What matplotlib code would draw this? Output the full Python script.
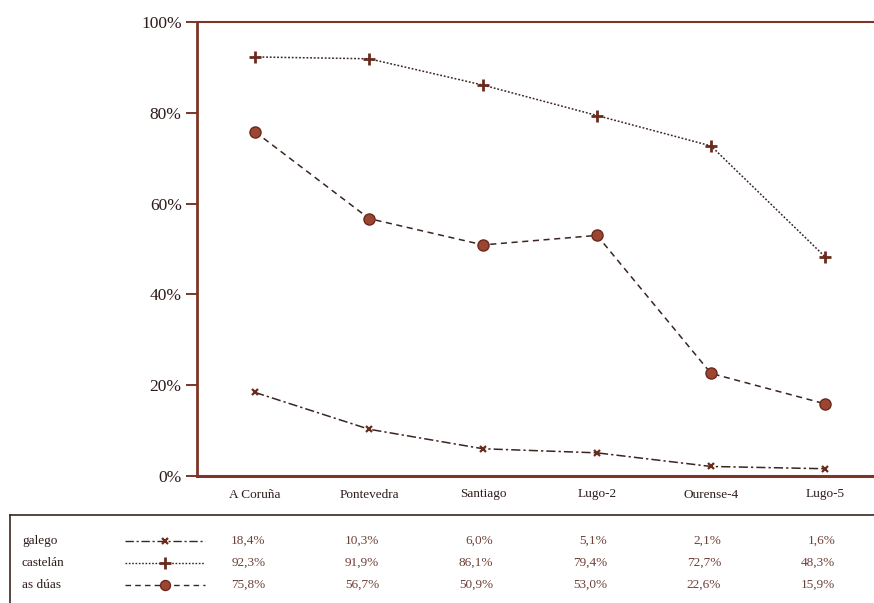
import matplotlib
matplotlib.use("Agg")
import matplotlib.pyplot as plt
import matplotlib.transforms as mtransforms
from matplotlib.lines import Line2D

# ── Datos ────────────────────────────────────────────────────────────────────
lugares = ["A Coruña", "Pontevedra", "Santiago", "Lugo-2", "Ourense-4", "Lugo-5"]
galego = [18.4, 10.3, 6.0, 5.1, 2.1, 1.6]
castelan = [92.3, 91.9, 86.1, 79.4, 72.7, 48.3]
as_duas = [75.8, 56.7, 50.9, 53.0, 22.6, 15.9]
yticks = [0, 20, 40, 60, 80, 100]

# ── Estilo ───────────────────────────────────────────────────────────────────
COLOR_EJE = "#7d3528"
COLOR_LINEA = "#3b2520"
COLOR_MARCA = "#9c4530"
COLOR_TEXTO = "#2e1c1a"
COLOR_VALOR = "#6e4036"
plt.rcParams["font.family"] = ["Liberation Serif", "DejaVu Serif"]

fig = plt.figure(figsize=(8.74, 6.03), dpi=100)
ax = fig.add_axes([197 / 874, 127 / 603, 1 - 197 / 874, 454 / 603])

x = list(range(len(lugares)))
series = [
    ("galego", galego, (0, (6, 2, 1.5, 2)), "x", 5, 1.6),
    ("castelán", castelan, (0, (1.2, 1.2)), "+", 9, 2.0),
    ("as dúas", as_duas, (0, (4, 3)), "o", 8, 1.0),
]
for nombre, vals, ls, mk, ms, mew in series:
    ax.plot(x, vals, color=COLOR_LINEA, lw=1.1, linestyle=ls, zorder=2)
    ax.plot(x, vals, linestyle="none", marker=mk, ms=ms, mew=mew,
            color=COLOR_MARCA, markeredgecolor="#6a2a1c", zorder=3)

ax.set_xlim(-0.51, 5.43)
ax.set_ylim(0, 100)
ax.set_yticks(yticks)
ax.set_yticklabels([f"{v}%" for v in yticks], fontsize=12.5, color=COLOR_TEXTO)
ax.set_xticks(x)
ax.set_xticklabels(lugares, fontsize=9.5, color=COLOR_TEXTO)
ax.tick_params(axis="x", length=0, pad=9)
ax.tick_params(axis="y", length=8, width=1.4, color=COLOR_EJE, pad=3)
for lado in ["left", "bottom", "top"]:
    ax.spines[lado].set_color(COLOR_EJE)
ax.spines["left"].set_linewidth(2.0)
ax.spines["bottom"].set_linewidth(2.2)
ax.spines["top"].set_linewidth(1.5)
ax.spines["right"].set_visible(False)

# ── Tabla inferior ───────────────────────────────────────────────────────────
def fy(py):
    return 1 - py / 603

fig.add_artist(Line2D([10 / 874, 1], [fy(515), fy(515)], color=COLOR_LINEA,
                      lw=1.2, transform=fig.transFigure))
fig.add_artist(Line2D([10 / 874, 10 / 874], [fy(515), 0], color=COLOR_LINEA,
                      lw=1.2, transform=fig.transFigure))

trans = mtransforms.blended_transform_factory(ax.transData, fig.transFigure)
filas_y = [541, 563, 585]
for (nombre, vals, ls, mk, ms, mew), py in zip(series, filas_y):
    fig.text(22 / 874, fy(py), nombre, ha="left", va="center", fontsize=9.5,
             color=COLOR_TEXTO)
    fig.add_artist(Line2D([125 / 874, 205 / 874], [fy(py), fy(py)],
                          color=COLOR_LINEA, lw=1.0, linestyle=ls,
                          transform=fig.transFigure))
    fig.add_artist(Line2D([165 / 874], [fy(py)], linestyle="none", marker=mk,
                          ms=ms * 0.9, mew=mew, color=COLOR_MARCA,
                          markeredgecolor="#6a2a1c",
                          transform=fig.transFigure))
    for i, v in enumerate(vals):
        etiqueta = f"{v:.1f}%".replace(".", ",")
        ax.text(i + 0.09, fy(py), etiqueta, transform=trans, ha="right",
                va="center", fontsize=9.5, color=COLOR_VALOR)

fig.savefig("out.png", dpi=100, facecolor="white")
